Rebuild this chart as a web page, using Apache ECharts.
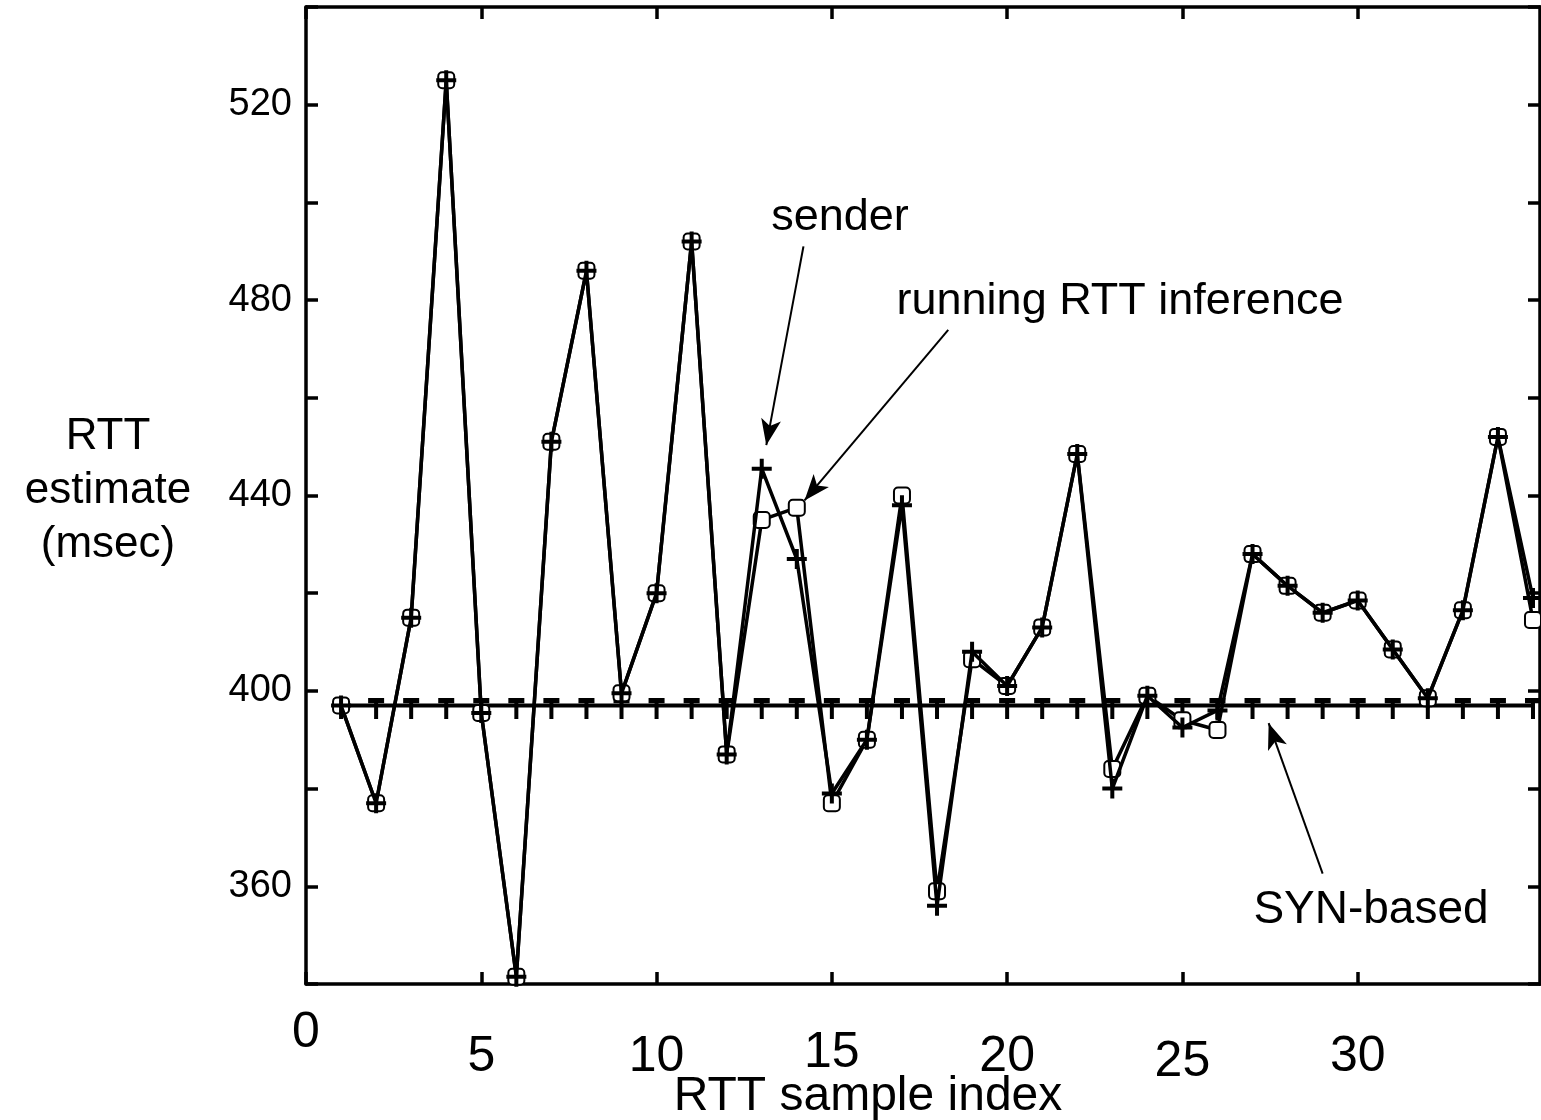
<!DOCTYPE html>
<html lang="en">

<head>
    <meta charset="UTF-8">
    <title>RTT estimate</title>
    <script src="https://cdn.jsdelivr.net/npm/echarts/dist/echarts.min.js"></script>
    <style>
        body {
            margin: 0;
            background: #fff;
        }

        #rtt {
            width: 1541px;
            height: 1120px;
        }
    </style>
</head>

<body>
    <div id="rtt"></div>
    <script>
        // RTT sample index 1..35
        var sampleIndex = [1, 2, 3, 4, 5, 6, 7, 8, 9, 10, 11, 12, 13, 14, 15, 16, 17, 18,
            19, 20, 21, 22, 23, 24, 25, 26, 27, 28, 29, 30, 31, 32, 33, 34, 35];
        // sender's RTT (msec)
        var sender = [397, 377, 415, 525, 395.5, 341.5, 451, 486, 399.5, 420, 492, 387, 445.5, 427, 379,
            390, 438, 356, 408, 401, 413, 448.5, 380, 399, 392.5, 396, 428, 421.5, 416, 418.5,
            408.5, 398.5, 416.5, 452, 419];
        // running RTT inference (msec)
        var running = [397, 377, 415, 525, 395.5, 341.5, 451, 486, 399.5, 420, 492, 387, 435, 437.5, 377,
            390, 440, 359, 406.5, 401, 413, 448.5, 384, 399, 394, 392, 428, 421.5, 416, 418.5,
            408.5, 398.5, 416.5, 452, 414.5];
        // SYN-based estimate (msec)
        var synBased = [397, 397, 397, 397, 397, 397, 397, 397, 397, 397, 397, 397, 397, 397, 397,
            397, 397, 397, 397, 397, 397, 397, 397, 397, 397, 397, 397, 397, 397, 397,
            397, 397, 397, 397, 397];
        var xTicks = [0, 5, 10, 15, 20, 25, 30];

        function pairs(vals) {
            return sampleIndex.map(function (x, i) { return [x, vals[i]]; });
        }

        var font = 'Liberation Sans, Arial, sans-serif';

        function frame() {
            return { show: true, onZero: false, lineStyle: { color: '#000', width: 3.5 } };
        }

        function tick(custom) {
            var t = { show: true, inside: true, length: 12, lineStyle: { color: '#000', width: 3.5 } };
            if (custom) t.customValues = custom;
            return t;
        }

        var myChart = echarts.init(document.getElementById('rtt'));
        myChart.setOption({
            animation: false,
            backgroundColor: '#fff',
            grid: { left: 306, right: 1, top: 7, bottom: 136 },
            xAxis: [{
                type: 'value',
                position: 'bottom',
                min: 0,
                max: 35.2,
                interval: 5,
                axisLine: frame(),
                axisTick: tick(xTicks),
                splitLine: { show: false },
                axisLabel: {
                    customValues: xTicks,
                    margin: 24,
                    fontFamily: font,
                    fontSize: 52,
                    color: '#000',
                    formatter: function (v) {
                        if (v === 0) return '{a|0}';
                        if (v === 25) return '{c|25}';
                        if (v === 15) return '{d|15}';
                        return '{b|' + v + '}';
                    },
                    rich: {
                        a: { fontSize: 50, fontFamily: font, padding: [0, 0, 0, 0] },
                        b: { fontSize: 50, fontFamily: font, padding: [24, 0, 0, 0] },
                        c: { fontSize: 50, fontFamily: font, padding: [29, 0, 0, 0] },
                        d: { fontSize: 50, fontFamily: font, padding: [20, 0, 0, 0] }
                    }
                }
            }, {
                type: 'value',
                position: 'top',
                min: 0,
                max: 35.2,
                interval: 5,
                axisLine: frame(),
                axisTick: tick(xTicks),
                axisLabel: { show: false },
                splitLine: { show: false }
            }],
            yAxis: [{
                type: 'value',
                position: 'left',
                min: 340,
                max: 540,
                interval: 20,
                axisLine: frame(),
                axisTick: tick(),
                splitLine: { show: false },
                axisLabel: {
                    margin: 14,
                    fontFamily: font,
                    fontSize: 38,
                    color: '#000',
                    formatter: function (v) { return v % 40 === 0 && v !== 540 ? v : ''; }
                }
            }, {
                type: 'value',
                position: 'right',
                min: 340,
                max: 540,
                interval: 20,
                axisLine: frame(),
                axisTick: tick(),
                axisLabel: { show: false },
                splitLine: { show: false }
            }],
            series: [{
                name: 'SYN-based',
                type: 'line',
                data: pairs(synBased),
                symbol: 'path://M0,0H16V5H10V20H6V5H0Z',
                symbolSize: [16, 21],
                symbolOffset: [0, 3],
                lineStyle: { color: '#000', width: 4 },
                itemStyle: { color: '#000' },
                z: 2,
                markLine: {
                    silent: true,
                    symbol: ['none', 'arrow'],
                    symbolSize: [15, 26],
                    label: { show: false },
                    lineStyle: { color: '#000', width: 2, type: 'solid' },
                    data: [
                        [{ coord: [14.19, 491.0] }, { coord: [13.13, 450.3] }],
                        [{ coord: [18.32, 473.9] }, { coord: [14.22, 439.0] }],
                        [{ coord: [29.0, 362.6] }, { coord: [27.46, 393.4] }]
                    ]
                }
            }, {
                name: 'running RTT inference',
                type: 'line',
                data: pairs(running),
                symbol: 'emptyRoundRect',
                symbolSize: 16,
                lineStyle: { color: '#000', width: 3.5 },
                itemStyle: { color: '#000', borderWidth: 3.5 },
                z: 3
            }, {
                name: 'sender',
                type: 'line',
                data: pairs(sender),
                symbol: 'path://M4,0H6V4H10V6H6V10H4V6H0V4H4Z',
                symbolSize: 20,
                lineStyle: { color: '#000', width: 3.5 },
                itemStyle: { color: '#000' },
                z: 4
            }],
            graphic: [{
                type: 'text',
                x: 108, y: 491,
                style: {
                    text: 'RTT\nestimate\n(msec)',
                    align: 'center', verticalAlign: 'middle',
                    lineHeight: 54,
                    font: '44px ' + font,
                    fill: '#000'
                }
            }, {
                type: 'text',
                x: 868, y: 1097,
                style: {
                    text: 'RTT sample index', align: 'center', verticalAlign: 'middle',
                    font: '48px ' + font, fill: '#000'
                }
            }, {
                type: 'text',
                x: 840, y: 218,
                style: {
                    text: 'sender', align: 'center', verticalAlign: 'middle',
                    font: '45px ' + font, fill: '#000'
                }
            }, {
                type: 'text',
                x: 1120, y: 302,
                style: {
                    text: 'running RTT inference', align: 'center', verticalAlign: 'middle',
                    font: '45px ' + font, fill: '#000'
                }
            }, {
                type: 'text',
                x: 1371, y: 910,
                style: {
                    text: 'SYN-based', align: 'center', verticalAlign: 'middle',
                    font: '46px ' + font, fill: '#000'
                }
            }]
        });
    </script>
</body>

</html>
